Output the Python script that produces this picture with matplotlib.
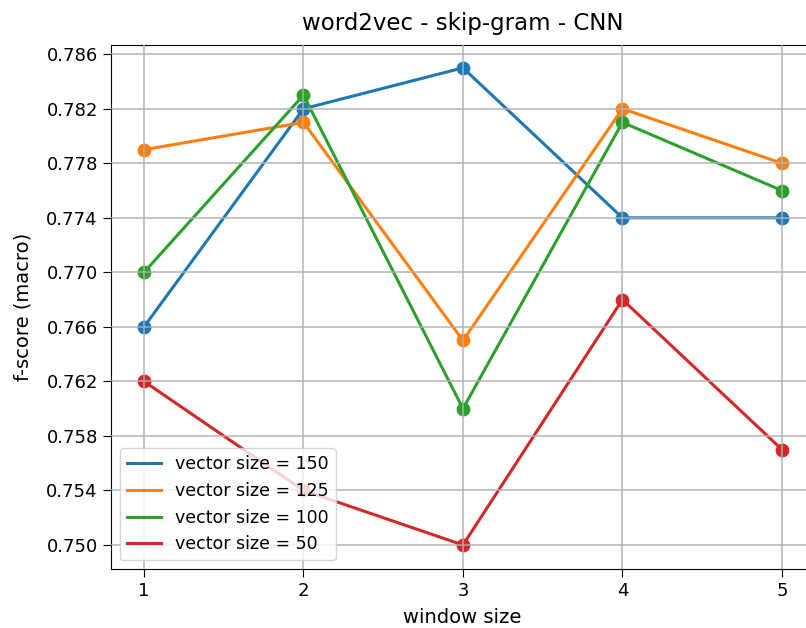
from matplotlib import pyplot as plt

window_sizes = [1, 2, 3, 4, 5]

# f-score (macro) per vector size
f_150 = [0.766, 0.782, 0.785, 0.774, 0.774]
f_125 = [0.779, 0.781, 0.765, 0.782, 0.778]
f_100 = [0.770, 0.783, 0.760, 0.781, 0.776]
f_50 = [0.762, 0.754, 0.750, 0.768, 0.757]

series = [(f_150, 'vector size = 150'),
          (f_125, 'vector size = 125'),
          (f_100, 'vector size = 100'),
          (f_50, 'vector size = 50')]

y_ticks = [0.750, 0.754, 0.758, 0.762, 0.766, 0.770, 0.774, 0.778, 0.782, 0.786]

fig = plt.figure(figsize=(8.06, 6.28), dpi=100)
# axes runs past the right edge, like the cropped original
ax = fig.add_axes([0.1377, 0.094, 0.872, 0.834])

for vals, lab in series:
    line, = ax.plot(window_sizes, vals, lw=2.2, label=lab)
    ax.scatter(window_sizes, vals, s=80, color=line.get_color())

ax.set_axisbelow(False)
ax.grid(True, color='#b0b0b0', lw=1.3, alpha=0.8)
ax.set_xticks(window_sizes)
ax.set_yticks(y_ticks)
ax.set_yticklabels(['%.3f' % v for v in y_ticks])
ax.set_ylim(0.74824, 0.78666)
ax.set_xlim(0.793, 5.2)
ax.tick_params(labelsize=13, length=6)
ax.set_xlabel('window size', fontsize=14, labelpad=6)
ax.set_ylabel('f-score (macro)', fontsize=14, labelpad=10)
ax.set_title('word2vec - skip-gram - CNN', fontsize=16.5, pad=11)
ax.legend(loc='lower left', fontsize=12.5)

plt.savefig('out.png', dpi=100)
